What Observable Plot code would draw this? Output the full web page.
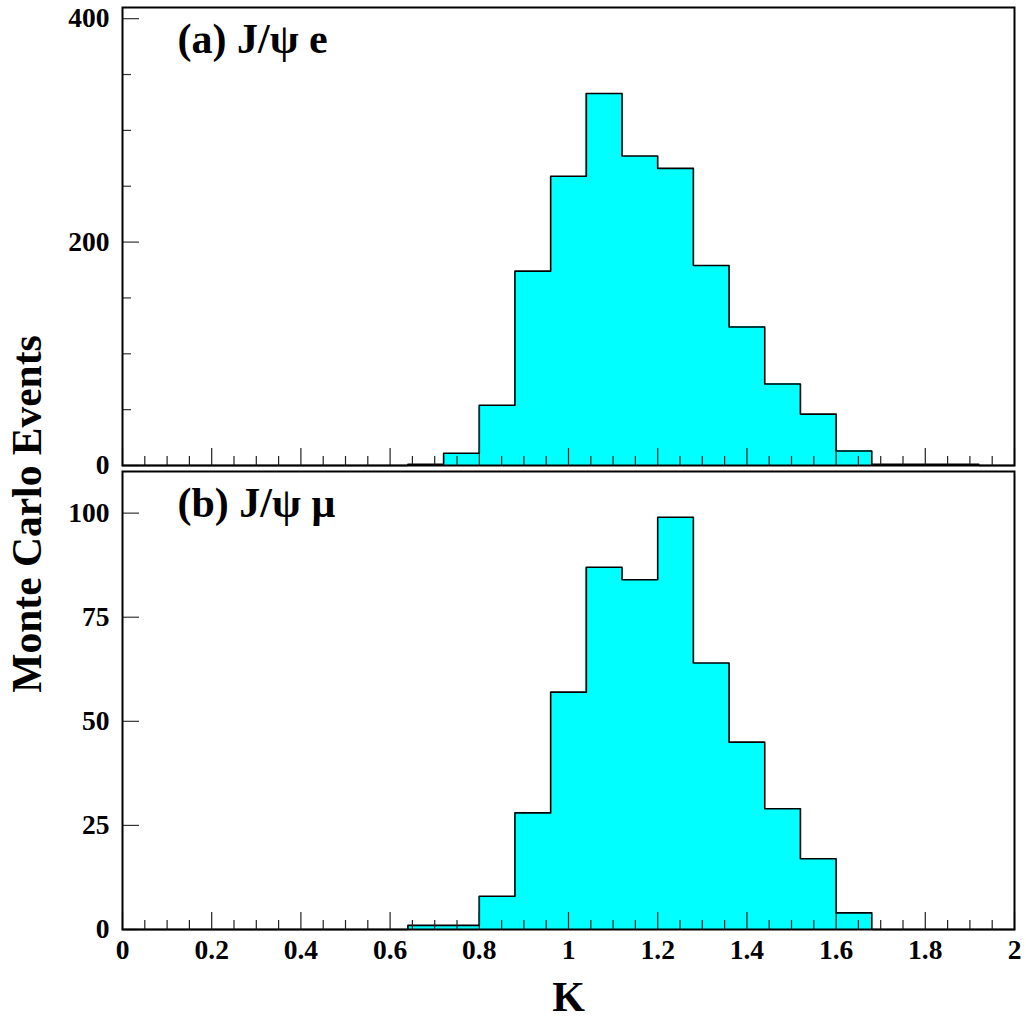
<!DOCTYPE html>
<html><head><meta charset="utf-8">
<script src="https://cdn.jsdelivr.net/npm/d3@7"></script>
<script src="https://cdn.jsdelivr.net/npm/@observablehq/plot@0.6"></script>
<style>
body{margin:0;background:#fff;}
#wrap{position:relative;width:1026px;height:1019px;overflow:hidden;background:#fff;font-family:"Liberation Serif","Times New Roman",serif;font-weight:bold;}
#wrap svg{display:block;overflow:visible;position:relative;}
#ylab{position:absolute;left:-173px;top:494px;width:400px;height:40px;line-height:40px;font-size:41.5px;text-align:center;transform:rotate(-90deg);white-space:nowrap;z-index:2;}
</style></head><body>
<div id="wrap"><div id="ylab">Monte Carlo Events</div></div>
<script>
// Bin edges (K), 25 bins of width 0.08
const binEdges = [0,0.08,0.16,0.24,0.32,0.40,0.48,0.56,0.64,0.72,0.80,0.88,0.96,1.04,1.12,1.20,1.28,1.36,1.44,1.52,1.60,1.68,1.76,1.84,1.92,2.00];
// (a) J/psi e
const countsE  = [0,0,0,0,0,0,0,0,1,11,54,174,259,333,277,266,179,124,73,46,13,1,1,1,0];
// (b) J/psi mu
const countsMu = [0,0,0,0,0,0,0,0,1,1,8,28,57,87,84,99,64,45,29,17,4,0,0,0,0];

const xMajor = [0,0.2,0.4,0.6,0.8,1.0,1.2,1.4,1.6,1.8,2.0];
const xMinor = [0.05,0.1,0.15,0.25,0.3,0.35,0.45,0.5,0.55,0.65,0.7,0.75,0.85,0.9,0.95,1.05,1.1,1.15,1.25,1.3,1.35,1.45,1.5,1.55,1.65,1.7,1.75,1.85,1.9,1.95];
const yMajorE = [0,200,400];
const yMinorE = [50,100,150,250,300,350];
const yMajorMu = [0,25,50,75,100];
const yMinorMu = [];
const labelE = "(a) J/ψ e";
const labelMu = "(b) J/ψ μ";
const xLabel = "K";

const W = 1026, ML = 122, MR = 12;
const FW = W - ML - MR;

function panel({counts, yDomain, yMajor, yMinor, label, height, marginTop, marginBottom, bottomAxis, z}) {
  const FH = height - marginTop - marginBottom;
  const bins = counts.map((c, i) => ({x1: binEdges[i], x2: binEdges[i+1], c}));
  const steps = binEdges.map((e, i) => ({x: e, y: counts[Math.min(i, counts.length - 1)]}));
  const marks = [
    Plot.rectY(bins, {x1: "x1", x2: "x2", y: "c", fill: "#00ffff", insetLeft: -0.5, insetRight: -0.5, shapeRendering: "crispEdges"}),
    Plot.line(steps, {x: "x", y: "y", curve: "step-after", stroke: "black", strokeWidth: 1.6}),
    Plot.ruleX(xMajor, {insetTop: FH - 17, stroke: "#222", strokeWidth: 1.2}),
    Plot.ruleX(xMinor, {insetTop: FH - 9, stroke: "#222", strokeWidth: 1.2}),
    Plot.ruleY(yMajor, {insetRight: FW - 17, stroke: "#333", strokeWidth: 1.2}),
    Plot.ruleY(yMinor, {insetRight: FW - 9, stroke: "#333", strokeWidth: 1.2}),
    Plot.frame({stroke: "black", strokeWidth: 2}),
    Plot.axisY(yMajor, {tickSize: 0, tickPadding: 13, label: null, fontSize: 27.5}),
    Plot.text([label], {frameAnchor: "top-left", dx: 55, dy: 16, textAnchor: "start", lineAnchor: "top", fontSize: 42})
  ];
  if (bottomAxis) {
    marks.push(Plot.axisX(xMajor, {tickSize: 0, tickPadding: 10, label: null, fontSize: 27.5, tickFormat: d => `${Math.round(d * 10) / 10}`}));
    marks.push(Plot.text([xLabel], {frameAnchor: "bottom", dy: 81, lineAnchor: "bottom", fontSize: 42}));
  }
  const svg = Plot.plot({
    width: W, height, marginLeft: ML, marginRight: MR, marginTop, marginBottom,
    style: {fontFamily: "'Liberation Serif','Times New Roman',serif", fontWeight: "bold", fontSize: "27px", color: "black", background: "transparent"},
    x: {domain: [0, 2], axis: null},
    y: {domain: yDomain, axis: null},
    marks
  });
  svg.style.zIndex = z;
  return svg;
}

const wrap = document.getElementById("wrap");
wrap.appendChild(panel({counts: countsE, yDomain: [0, 410], yMajor: yMajorE, yMinor: yMinorE, label: labelE, height: 468, marginTop: 7, marginBottom: 3, bottomAxis: false, z: 1}));
wrap.appendChild(panel({counts: countsMu, yDomain: [0, 110], yMajor: yMajorMu, yMinor: yMinorMu, label: labelMu, height: 551, marginTop: 3, marginBottom: 90, bottomAxis: true, z: 0}));
</script>
</body></html>
